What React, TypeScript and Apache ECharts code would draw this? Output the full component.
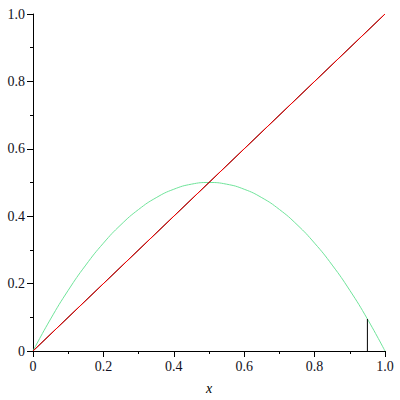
import React, { useEffect, useRef } from "react";
import * as echarts from "echarts";

const curveX = [0, 0.05, 0.1, 0.15, 0.2, 0.25, 0.3, 0.35, 0.4, 0.45, 0.5, 0.55, 0.6, 0.65, 0.7, 0.75, 0.8, 0.85, 0.9, 0.95, 1.0];
const curveY = [0, 0.095, 0.18, 0.255, 0.32, 0.375, 0.42, 0.455, 0.48, 0.495, 0.5, 0.495, 0.48, 0.455, 0.42, 0.375, 0.32, 0.255, 0.18, 0.095, 0];
const diagX = [0, 1];
const diagY = [0, 1];
const stemX = [0.95, 0.95];
const stemY = [0, 0.095];

const fmt = (v: number) => (v === 0 ? "0" : v.toFixed(1));
const SERIF = "Liberation Serif";

export default function App() {
  const ref = useRef<HTMLDivElement>(null);
  useEffect(() => {
    const chart = echarts.init(ref.current!, null, { renderer: "svg" });
    const mkAxis = (extra: any) => ({
      type: "value",
      min: 0,
      max: 1,
      interval: 0.2,
      splitLine: { show: false },
      axisLine: { show: true, onZero: false, lineStyle: { color: "#000", width: 1 } },
      axisTick: { show: true, length: 6, lineStyle: { color: "#000" } },
      minorTick: { show: true, splitNumber: 2, length: 3, lineStyle: { color: "#000" } },
      axisLabel: {
        show: true,
        formatter: fmt,
        fontFamily: SERIF,
        fontSize: 14,
        color: "#111122",
        margin: 8,
      },
      ...extra,
    });
    chart.setOption({
      animation: false,
      backgroundColor: "#fff",
      textStyle: { fontFamily: SERIF, fontSize: 14 },
      grid: { left: 33, right: 15, top: 14, bottom: 44, containLabel: false },
      xAxis: mkAxis({
        name: "x",
        nameLocation: "middle",
        nameGap: 30,
        nameTextStyle: { fontFamily: SERIF, fontStyle: "italic", fontSize: 14, color: "#000" },
      }),
      yAxis: mkAxis({}),
      series: [
        {
          type: "line",
          data: curveX.map((x, i) => [x, curveY[i]]),
          smooth: true,
          showSymbol: false,
          lineStyle: { color: "#6fe39a", width: 1 },
        },
        {
          type: "line",
          data: diagX.map((x, i) => [x, diagY[i]]),
          showSymbol: false,
          lineStyle: { color: "#000", width: 1 },
        },
        {
          type: "line",
          data: diagX.map((x, i) => [x, diagY[i]]),
          showSymbol: false,
          lineStyle: { color: "#ff0000", width: 1 },
        },
        {
          type: "line",
          data: stemX.map((x, i) => [x, stemY[i]]),
          showSymbol: false,
          lineStyle: { color: "#000", width: 1 },
        },
      ],
    });
    return () => chart.dispose();
  }, []);
  return <div ref={ref} style={{ width: 400, height: 400, position: "absolute", left: 0, top: 0 }} />;
}
